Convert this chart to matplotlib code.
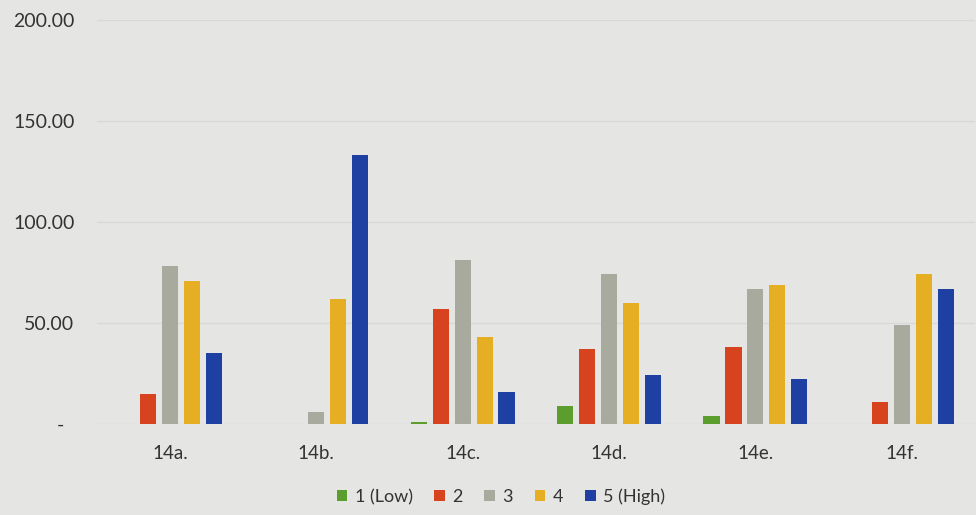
import matplotlib.pyplot as plt
import numpy as np

categories = ["14a.", "14b.", "14c.", "14d.", "14e.", "14f."]
series_names = ["1 (Low)", "2", "3", "4", "5 (High)"]
low = [0, 0, 1, 9, 4, 0]
two = [15, 0, 57, 37, 38, 11]
three = [78, 6, 81, 74, 67, 49]
four = [71, 62, 43, 60, 69, 74]
high = [35, 133, 16, 24, 22, 67]
colors = ["#5c9e2e", "#d8431f", "#a8aa9e", "#e6ae22", "#1d40a2"]

plt.rcParams["font.family"] = ["Lato", "DejaVu Sans"]
bg = "#e5e6e4"

fig = plt.figure(figsize=(9.76, 5.15), dpi=100, facecolor=bg)
ax = fig.add_axes([0.099, 0.177, 0.90, 0.784], facecolor=bg)

x = np.arange(len(categories))
slot = 0.15
width = 0.11
for i, (vals, name, c) in enumerate(zip([low, two, three, four, high], series_names, colors)):
    ax.bar(x + (i - 2) * slot, vals, width, color=c, label=name, zorder=3)

ax.set_xlim(-0.5, len(categories) - 0.5)
ax.set_ylim(0, 200)
ax.set_yticks([0, 50, 100, 150, 200])
# zero shown as a dash, accounting-style
ax.set_yticklabels(["-  " if v == 0 else f"{v:.2f}" for v in [0, 50, 100, 150, 200]])
ax.set_xticks(x)
ax.set_xticklabels(categories)
ax.tick_params(length=0, labelsize=13.5, colors="#333333")
ax.tick_params(axis="y", labelsize=14, pad=16)
ax.tick_params(axis="x", pad=15)
ax.grid(axis="y", color="#d8d9d6", linewidth=1, zorder=0)
for s in ax.spines.values():
    s.set_visible(False)

ax.legend(loc="upper center", bbox_to_anchor=(0.46, -0.12), ncol=5, frameon=False,
          fontsize=13, handlelength=0.6, handleheight=0.6, handletextpad=0.4,
          columnspacing=1.2, labelcolor="#333333")

fig.savefig("out.png", dpi=100, facecolor=bg)
